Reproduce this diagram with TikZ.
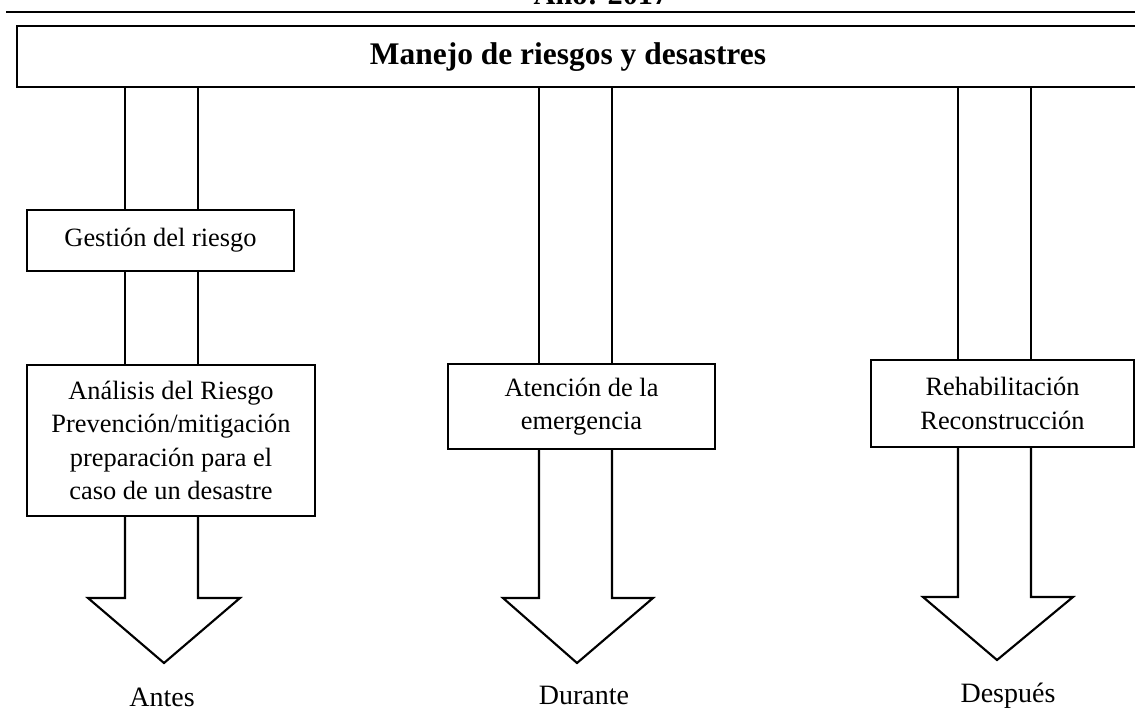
\documentclass[tikz,border=0pt]{standalone}
\usepackage{fontspec}
\setmainfont{Liberation Serif}
\begin{document}
\begin{tikzpicture}[x=0.75pt,y=-0.75pt,
  line width=1.6pt,
  boxtxt/.style={font=\fontsize{19.8}{25}\selectfont, align=center},
  stagebox/.style={draw, boxtxt, inner sep=0pt},
  bigtitle/.style={font=\fontsize{23.6}{28}\selectfont\bfseries},
  phase/.style={font=\fontsize{21}{25}\selectfont, anchor=base}]
\useasboundingbox (0,0) rectangle (1135,711);

% header
\node[font=\fontsize{22.7}{27}\selectfont\bfseries, anchor=base] (anio) at (601,4) {Año: 2017};
\coordinate (hl) at (6,12);
\coordinate (hr) at (1140,12);
\draw (hl) -- (hr);

% main box
\node[draw, minimum width=1133*0.75pt, minimum height=61*0.75pt, inner sep=0pt] (top) at (583.5,56.5) {};
\node[bigtitle] (title) at (568,57) {Manejo de riesgos y desastres};

% boxes
\node[stagebox, minimum width=267*0.75pt, minimum height=61*0.75pt] (gest) at (160.5,240.5) {Gestión del riesgo};
\node[stagebox, minimum width=288*0.75pt, minimum height=151*0.75pt] (anal) at (171,440.5)
  {Análisis del Riesgo\\Prevención/mitigación\\preparación para el\\caso de un desastre};
\node[stagebox, minimum width=267*0.75pt, minimum height=85*0.75pt] (aten) at (581.5,406.5)
  {Atención de la\\emergencia};
\node[stagebox, minimum width=263*0.75pt, minimum height=87*0.75pt] (rehab) at (1002.5,403.5)
  {Rehabilitación\\Reconstrucción};

% pillar x positions
\coordinate (la) at (125,0);  \coordinate (lb) at (198,0);
\coordinate (ma) at (539,0);  \coordinate (mb) at (612,0);
\coordinate (ra) at (958,0);  \coordinate (rb) at (1031,0);

% pillars: top box to first boxes
\draw (la |- top.south) -- (la |- gest.north);
\draw (lb |- top.south) -- (lb |- gest.north);
\draw (la |- gest.south) -- (la |- anal.north);
\draw (lb |- gest.south) -- (lb |- anal.north);
\draw (ma |- top.south) -- (ma |- aten.north);
\draw (mb |- top.south) -- (mb |- aten.north);
\draw (ra |- top.south) -- (ra |- rehab.north);
\draw (rb |- top.south) -- (rb |- rehab.north);

% block arrows
\coordinate (lh) at (0,598); \coordinate (lw1) at (88,598); \coordinate (lw2) at (240,598); \coordinate (ltip) at (164,663);
\coordinate (mh) at (0,598); \coordinate (mw1) at (503,598); \coordinate (mw2) at (653,598); \coordinate (mtip) at (577,663);
\coordinate (rh) at (0,597); \coordinate (rw1) at (923,597); \coordinate (rw2) at (1073,597); \coordinate (rtip) at (997,660);

\draw[line join=miter] (la |- anal.south) -- (la |- lh) -- (lw1) -- (ltip) -- (lw2) -- (lb |- lh) -- (lb |- anal.south);
\draw[line join=miter] (ma |- aten.south) -- (ma |- mh) -- (mw1) -- (mtip) -- (mw2) -- (mb |- mh) -- (mb |- aten.south);
\draw[line join=miter] (ra |- rehab.south) -- (ra |- rh) -- (rw1) -- (rtip) -- (rw2) -- (rb |- rh) -- (rb |- rehab.south);

% phase labels
\node[phase] (antes) at (162,706) {Antes};
\node[phase] (durante) at (584,704) {Durante};
\node[phase] (despues) at (1008,702) {Después};
\end{tikzpicture}
\end{document}
